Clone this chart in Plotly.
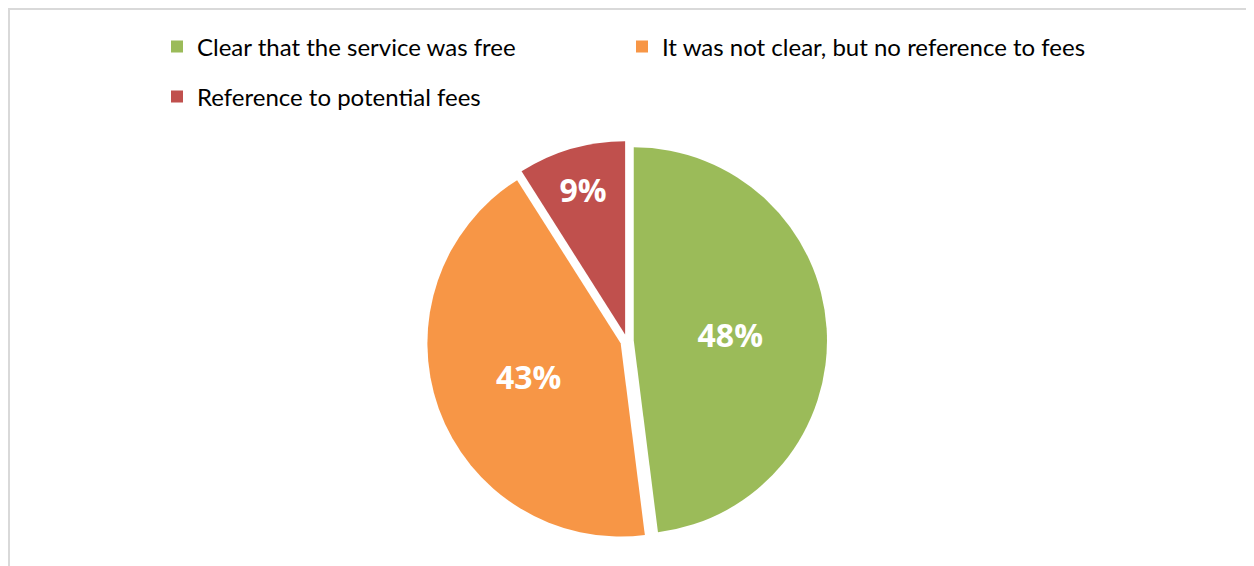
import plotly.graph_objects as go

labels = ["Clear that the service was free",
          "It was not clear, but no reference to fees",
          "Reference to potential fees"]
values = [48, 43, 9]
colors = ["#9BBB59", "#F79646", "#C0504D"]
legend_rows = [[0, 1], [2]]   # which categories sit in each legend row

W, H = 1254, 566
fig = go.Figure()
fig.add_trace(go.Pie(
    labels=labels, values=values, sort=False, direction="clockwise", rotation=0,
    marker=dict(colors=colors, line=dict(width=0)),
    pull=[0.035, 0.035, 0.035],
    texttemplate="%{percent:.0%}",
    textposition="inside", insidetextorientation="horizontal",
    textfont=dict(family="Open Sans", size=32, color="white", weight="bold"),
    domain=dict(x=[419 / W, 819 / W], y=[1 - 533 / H, 1 - 133 / H]),
    hoverinfo="label+percent",
    showlegend=False,
))

# legend proxies (one per legend row), drawn with zero size
for k, row in enumerate(legend_rows):
    fig.add_trace(go.Pie(
        labels=[labels[i] for i in row], values=[values[i] for i in row],
        sort=False, direction="clockwise",
        marker=dict(colors=[colors[i] for i in row], line=dict(width=0)),
        textinfo="none", hoverinfo="skip",
        domain=dict(x=[0, 0.00001], y=[0, 0.00001]),
        legend="legend" if k == 0 else f"legend{k + 1}",
        showlegend=True,
    ))

leg_common = dict(orientation="h", xanchor="left", yanchor="middle",
                  font=dict(size=24, family="Lato", color="#000000"),
                  entrywidth=420, entrywidthmode="pixels", bgcolor="rgba(0,0,0,0)")
fig.update_layout(
    width=W, height=H,
    margin=dict(l=0, r=0, t=0, b=0),
    paper_bgcolor="white", plot_bgcolor="white",
    font=dict(family="Lato", color="#000000"),
    legend=dict(x=149 / W, y=1 - 39 / H, **leg_common),
    legend2=dict(x=149 / W, y=1 - 89 / H, **leg_common),
    shapes=[dict(type="rect", xref="paper", yref="paper",
                 x0=1 / W, x1=1241.5 / W, y0=-0.1, y1=1 - 1 / H,
                 line=dict(color="#D9D9D9", width=2), fillcolor="rgba(0,0,0,0)")],
)
fig.write_html("out.html")
